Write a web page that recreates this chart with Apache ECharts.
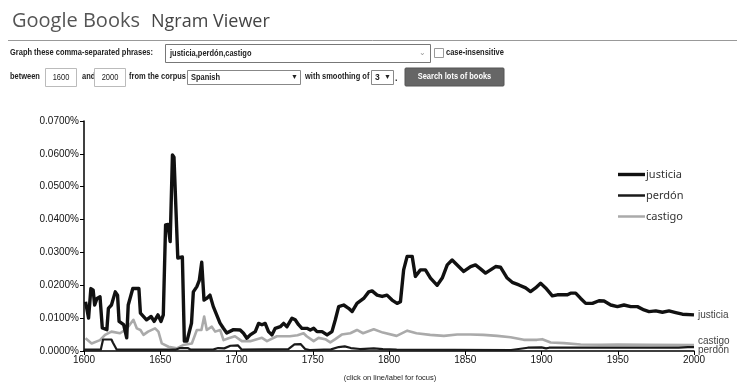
<!DOCTYPE html>
<html><head><meta charset="utf-8">
<script src="https://cdn.jsdelivr.net/npm/echarts@6/dist/echarts.min.js"></script>
<style>html,body{margin:0;padding:0;background:#fff}#c{width:737px;height:388px}</style>
</head><body><div id="c"></div>
<script>
const seriesNames = ['justicia', 'perdón', 'castigo'];
const xTicks = [1600, 1650, 1700, 1750, 1800, 1850, 1900, 1950, 2000];
const yTicks = [0, 0.01, 0.02, 0.03, 0.04, 0.05, 0.06, 0.07];

const justicia = [[1601,0.0150],[1603,0.0100],[1604.5,0.0190],[1606,0.0185],[1607,0.0140],[1608.5,0.0160],[1610.5,0.0165],[1612,0.0070],[1615,0.0065],[1616,0.0130],[1618,0.0140],[1620.5,0.0180],[1622,0.0170],[1623,0.0090],[1626,0.0080],[1628,0.0040],[1629,0.0140],[1632,0.0190],[1636,0.0190],[1637,0.0115],[1641,0.0095],[1644,0.0105],[1646,0.0090],[1648.5,0.0110],[1650.5,0.0090],[1652,0.0110],[1653.5,0.0384],[1655,0.0385],[1656.5,0.0333],[1658,0.0597],[1659,0.0590],[1661.5,0.0283],[1664.5,0.0286],[1665.8,0.0030],[1667.5,0.0030],[1670.5,0.0085],[1671.7,0.0180],[1674,0.0196],[1675.6,0.0215],[1677.2,0.0270],[1678.7,0.0155],[1680.4,0.0160],[1682.6,0.0170],[1684.8,0.0135],[1687,0.0110],[1689.2,0.0085],[1691.3,0.0070],[1693.6,0.0055],[1698,0.0065],[1702.4,0.0064],[1704.6,0.0054],[1706.8,0.0039],[1709,0.0049],[1712.3,0.0059],[1714.5,0.0084],[1716.7,0.0080],[1718.8,0.0084],[1721,0.0059],[1723.2,0.0049],[1725.4,0.0069],[1728.7,0.0074],[1730.9,0.0084],[1733.1,0.0074],[1736.4,0.0100],[1738.5,0.0095],[1740.7,0.0080],[1742.9,0.0069],[1746.2,0.0069],[1748.4,0.0064],[1750.6,0.0069],[1752.8,0.0059],[1756.1,0.0059],[1759.4,0.0049],[1762.6,0.0059],[1764.8,0.0095],[1767,0.0135],[1770.3,0.0140],[1773.5,0.0130],[1775.8,0.0120],[1779,0.0145],[1783.4,0.0160],[1786.7,0.0180],[1788.9,0.0183],[1792.2,0.0170],[1795.5,0.0166],[1798.7,0.0170],[1802,0.0155],[1805.3,0.0145],[1807.5,0.0150],[1809.6,0.0247],[1811.9,0.0288],[1815.2,0.0288],[1817.3,0.0227],[1820.6,0.0247],[1823.9,0.0247],[1827.2,0.0222],[1831.6,0.0200],[1834.9,0.0222],[1838.2,0.0262],[1841.4,0.0277],[1844.7,0.0262],[1849,0.0242],[1853.5,0.0257],[1856.7,0.0262],[1860,0.0250],[1863.3,0.0237],[1866.6,0.0247],[1869.9,0.0257],[1873.1,0.0255],[1877.5,0.0222],[1880.8,0.0209],[1885.2,0.0201],[1889.6,0.0192],[1892.8,0.0181],[1896.1,0.0192],[1899.4,0.0206],[1902.7,0.0192],[1907.1,0.0168],[1910.4,0.0171],[1913.7,0.0171],[1917,0.0171],[1919.1,0.0176],[1922.4,0.0176],[1925.7,0.0160],[1929,0.0145],[1933.4,0.0145],[1937.7,0.0153],[1941,0.0152],[1945.4,0.0140],[1949.8,0.0135],[1954.1,0.0140],[1958.5,0.0135],[1962.9,0.0135],[1967.2,0.0125],[1970.5,0.0120],[1974.9,0.0122],[1979.3,0.0118],[1983.6,0.0122],[1988,0.0117],[1992.4,0.0112],[2000,0.0110]];

const perdon = [[1600,0.0004],[1611,0.0004],[1612.5,0.0035],[1618,0.0035],[1619,0.0025],[1621.5,0.0004],[1660,0.0004],[1663,0.0009],[1668,0.0009],[1670,0.0004],[1685,0.0005],[1688,0.0009],[1692,0.0008],[1696,0.0016],[1701,0.0017],[1703.5,0.0004],[1734,0.0006],[1738,0.0020],[1742,0.0021],[1745,0.0006],[1748,0.0003],[1762,0.0005],[1767,0.0012],[1771,0.0014],[1775,0.0009],[1781,0.0006],[1790,0.0008],[1796,0.0006],[1805,0.0004],[1880,0.0003],[1885,0.0006],[1891,0.0010],[1900,0.0011],[1903,0.0008],[1905,0.0010],[1990,0.0010],[1996,0.0012],[2000,0.0012]];

const castigo = [[1601,0.0039],[1605,0.0023],[1610.5,0.0033],[1613.8,0.0049],[1618,0.0059],[1623.6,0.0054],[1627,0.0064],[1629,0.0074],[1632.4,0.0095],[1634.6,0.0069],[1637,0.0064],[1639,0.0049],[1642,0.0059],[1646.6,0.0069],[1648.8,0.0059],[1651,0.0023],[1655.4,0.0013],[1660.8,0.0008],[1665,0.0018],[1670.7,0.0023],[1674,0.0064],[1677,0.0064],[1678.8,0.0105],[1680.5,0.0064],[1683.8,0.0074],[1686,0.0059],[1689.3,0.0064],[1691.5,0.0033],[1694.8,0.0039],[1699,0.0045],[1703.5,0.0030],[1709,0.0030],[1716.7,0.0040],[1720,0.0030],[1726.5,0.0045],[1735,0.0045],[1740,0.0048],[1744,0.0054],[1746,0.0045],[1750.6,0.0030],[1753.8,0.0040],[1758.2,0.0036],[1761.5,0.0026],[1764.8,0.0036],[1769,0.0050],[1774.6,0.0054],[1779,0.0064],[1783,0.0054],[1790,0.0066],[1796,0.0056],[1805,0.0046],[1812,0.0062],[1818,0.0054],[1827,0.0049],[1836,0.0046],[1844.7,0.0050],[1853.5,0.0050],[1862,0.0049],[1871,0.0046],[1879.7,0.0042],[1888.4,0.0034],[1897,0.0034],[1900.5,0.0036],[1906,0.0026],[1914.7,0.0024],[1925.7,0.0020],[1938.8,0.0019],[1950,0.0020],[1970,0.0019],[2000,0.0018]];

const FF = '"Liberation Sans", Arial, sans-serif';
const chart = echarts.init(document.getElementById('c'), null, {renderer: 'canvas'});

function txt(x, y, s, opt, sx) {
  return {type: 'text', x: x, y: y, scaleX: sx || 1,
    style: Object.assign({text: s, fill: '#222', font: '9px ' + FF, textVerticalAlign: 'middle'}, opt || {})};
}
function box(x, y, w, h, stroke, fill) {
  return {type: 'rect', shape: {x: x, y: y, width: w, height: h}, style: {stroke: stroke || '#aaa', fill: fill || '#fff', lineWidth: 1}};
}
const B = 'bold 8.5px ' + FF;
const S = 0.88;

const graphics = [
  txt(12, 21, 'Google Books', {font: '20px "Open Sans", sans-serif', fill: '#555'}),
  txt(151, 22, 'Ngram Viewer', {font: '18px "Open Sans", sans-serif', fill: '#444'}),
  {type: 'line', shape: {x1: 8, y1: 40.5, x2: 737, y2: 40.5}, style: {stroke: '#999', lineWidth: 1}},
  txt(10, 53, 'Graph these comma-separated phrases:', {font: B}, S),
  box(165.5, 44.5, 265, 18, '#777'),
  txt(170, 54, 'justicia,perdón,castigo', {font: B}, S),
  txt(419, 53, '⌄', {font: '8px ' + FF, fill: '#999'}),
  box(434.5, 48.5, 9, 9, '#999'),
  txt(446, 53, 'case-insensitive', {font: B}, S),
  txt(10, 77, 'between', {font: B}, S),
  box(45.5, 68.5, 31, 18, '#bbb'),
  txt(61, 77.5, '1600', {font: '8.5px ' + FF, textAlign: 'center'}, S),
  txt(82, 77, 'and', {font: B}, S),
  box(94.5, 68.5, 31, 18, '#bbb'),
  txt(110, 77.5, '2000', {font: '8.5px ' + FF, textAlign: 'center'}, S),
  txt(129, 77, 'from the corpus', {font: B}, S),
  box(187.5, 70.5, 113, 14, '#888'),
  txt(191, 77.5, 'Spanish', {font: B}, S),
  txt(291, 77.5, '▼', {font: '7px ' + FF}),
  txt(305, 77, 'with smoothing of', {font: B}, S),
  box(371.5, 70.5, 22, 14, '#888'),
  txt(375, 77.5, '3', {font: B}),
  txt(384, 77.5, '▼', {font: '7px ' + FF}),
  txt(395, 79, '.', {font: 'bold 9px ' + FF}),
  {type: 'rect', shape: {x: 405, y: 68, width: 99, height: 18, r: 1}, style: {fill: '#666', stroke: '#555'}},
  txt(454.5, 77, 'Search lots of books', {font: B, fill: '#fff', textAlign: 'center'}, S),
  txt(390, 378, '(click on line/label for focus)', {font: '7.5px ' + FF, textAlign: 'center'})
];

const colors = ['#111', '#1a1a1a', '#aaaaaa'];
const widths = [3.4, 2.2, 2.6];
const datas = [justicia, perdon, castigo];
const endOffsets = [[-4, 0], [-4, 3], [-4, -4]];
const legendIcons = ['path://M0,0H27V3.4H0Z', 'path://M0,0H27V2.5H0Z', 'path://M0,0H27V2.5H0Z'];

chart.setOption({
  animation: false,
  backgroundColor: '#fff',
  grid: {left: 84, right: 43, top: 121, bottom: 37, containLabel: false},
  xAxis: {
    type: 'value', min: 1600, max: 2000, interval: 50,
    axisLine: {lineStyle: {color: '#000', width: 1.5}},
    axisTick: {show: true, length: 4, lineStyle: {color: '#000'}},
    axisLabel: {color: '#111', fontSize: 10, fontFamily: FF, margin: 4,
      formatter: v => xTicks.indexOf(v) >= 0 ? String(v) : ''},
    splitLine: {show: false}
  },
  yAxis: {
    type: 'value', min: 0, max: 0.07, interval: 0.01,
    axisLine: {show: true, lineStyle: {color: '#000', width: 1.5}},
    axisTick: {show: true, length: 4, lineStyle: {color: '#000'}},
    axisLabel: {color: '#111', fontSize: 10, fontFamily: FF, margin: 5,
      formatter: v => {
        const t = yTicks.find(k => Math.abs(k - v) < 1e-9);
        return t === undefined ? '' : t.toFixed(4) + '%';
      }},
    splitLine: {show: false}
  },
  legend: {
    orient: 'vertical', left: 613, top: 164, itemGap: 10, itemWidth: 27, itemHeight: 12,
    symbolKeepAspect: true,
    itemStyle: {borderWidth: 0},
    textStyle: {color: '#333', fontSize: 11, fontFamily: '"Noto Sans", sans-serif', padding: [0, 0, 0, -4]},
    data: seriesNames.map((n, i) => ({name: n, icon: legendIcons[i], itemStyle: {color: colors[i], borderWidth: 0}}))
  },
  series: seriesNames.map((n, i) => ({
    name: n, type: 'line', data: datas[i], symbol: 'none', showSymbol: false,
    z: [4, 3, 2][i],
    lineStyle: {color: colors[i], width: widths[i], join: 'round'},
    itemStyle: {color: colors[i]},
    endLabel: {show: true, formatter: n, color: '#444', fontSize: 10, fontFamily: FF, offset: endOffsets[i]}
  })),
  graphic: graphics
});
</script></body></html>
